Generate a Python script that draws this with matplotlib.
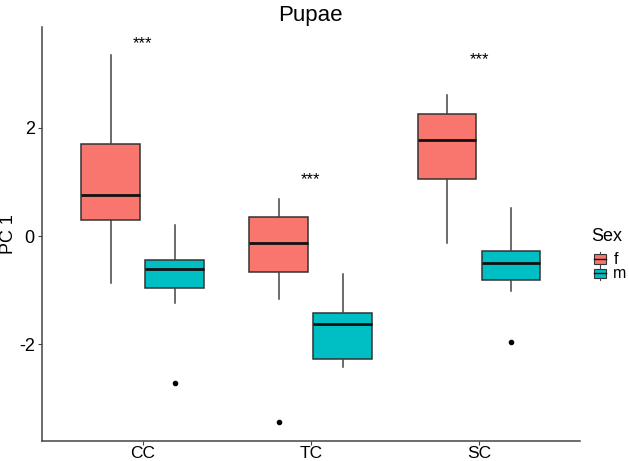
import matplotlib.pyplot as plt
import numpy as np

plt.rcParams['font.family'] = ['Liberation Sans', 'DejaVu Sans']

# donnees
groups = ["CC", "TC", "SC"]
sexes = ["f", "m"]
colors = {"f": "#F8766D", "m": "#00BFC4"}

# f : CC, TC, SC
f_whislo = [-0.87, -1.17, -0.12]
f_q1 = [0.30, -0.66, 1.05]
f_med = [0.76, -0.135, 1.78]
f_q3 = [1.70, 0.35, 2.26]
f_whishi = [3.34, 0.68, 2.61]
f_fliers = [[], [-3.43], []]

# m : CC, TC, SC
m_whislo = [-1.24, -2.41, -1.02]
m_q1 = [-0.965, -2.28, -0.82]
m_med = [-0.60, -1.62, -0.50]
m_q3 = [-0.45, -1.43, -0.28]
m_whishi = [0.20, -0.70, 0.51]
m_fliers = [[-2.71], [], [-1.96]]

stars = ["***", "***", "***"]
star_y = [3.56, 1.05, 3.26]

fig = plt.figure(figsize=(6.29, 4.61), dpi=100)
ax = fig.add_axes([0.0663, 0.044, 0.922 - 0.0663, 0.9414 - 0.044])

x = np.arange(1, len(groups) + 1)
offset = 0.19
width = 0.35

def make_stats(lo, q1, med, q3, hi, fl):
    return [dict(whislo=a, q1=b, med=c, q3=d, whishi=e, fliers=f)
            for a, b, c, d, e, f in zip(lo, q1, med, q3, hi, fl)]

series = {
    "f": make_stats(f_whislo, f_q1, f_med, f_q3, f_whishi, f_fliers),
    "m": make_stats(m_whislo, m_q1, m_med, m_q3, m_whishi, m_fliers),
}

for i, s in enumerate(sexes):
    pos = x + (i - 0.5) * 2 * offset
    ax.bxp(series[s], positions=pos, widths=width, patch_artist=True,
           showcaps=False,
           boxprops=dict(facecolor=colors[s], edgecolor="#333333", linewidth=1.1),
           medianprops=dict(color="#111111", linewidth=2),
           whiskerprops=dict(color="#444444", linewidth=1.1),
           flierprops=dict(marker="o", markersize=3, markerfacecolor="black",
                           markeredgecolor="black"))

for xi, t, yi in zip(x, stars, star_y):
    ax.text(xi, yi, t, ha="center", va="center", fontsize=12)

ax.set_xlim(0.4, 3.6)
ax.set_ylim(-3.78, 3.86)
ax.set_xticks(x)
ax.set_xticklabels(groups, fontsize=12.5)
ax.set_yticks([-2, 0, 2])
ax.set_yticklabels(["-2", "0", "2"], fontsize=13)
ax.set_ylabel("PC 1", fontsize=13, labelpad=1)
ax.set_title("Pupae", fontsize=16, pad=4)
for sp in ["top", "right"]:
    ax.spines[sp].set_visible(False)
for sp in ["left", "bottom"]:
    ax.spines[sp].set_color("#444444")
    ax.spines[sp].set_linewidth(1.1)
ax.tick_params(length=3, color="#444444", colors="black")
ax.tick_params(axis="y", pad=2)
ax.tick_params(axis="x", pad=0.5)

# legende facon ggplot
fig.text(0.940, 0.488, "Sex", fontsize=13, va="center")
for j, s in enumerate(sexes):
    yc = 0.438 - j * 0.031
    kx = 0.954
    kw = 0.018
    kh = 0.02
    fig.add_artist(plt.Rectangle((kx - kw / 2, yc - kh / 2), kw, kh,
                                 facecolor=colors[s], edgecolor="#333333",
                                 linewidth=0.8))
    fig.add_artist(plt.Line2D([kx - kw / 2, kx + kw / 2], [yc, yc],
                              color="#111111", linewidth=1))
    fig.add_artist(plt.Line2D([kx, kx], [yc + kh / 2, yc + kh / 2 + 0.005],
                              color="#444444", linewidth=0.8))
    fig.add_artist(plt.Line2D([kx, kx], [yc - kh / 2, yc - kh / 2 - 0.005],
                              color="#444444", linewidth=0.8))
    fig.text(0.975, yc, s, fontsize=11.5, va="center")

fig.savefig("out.png", dpi=100)
